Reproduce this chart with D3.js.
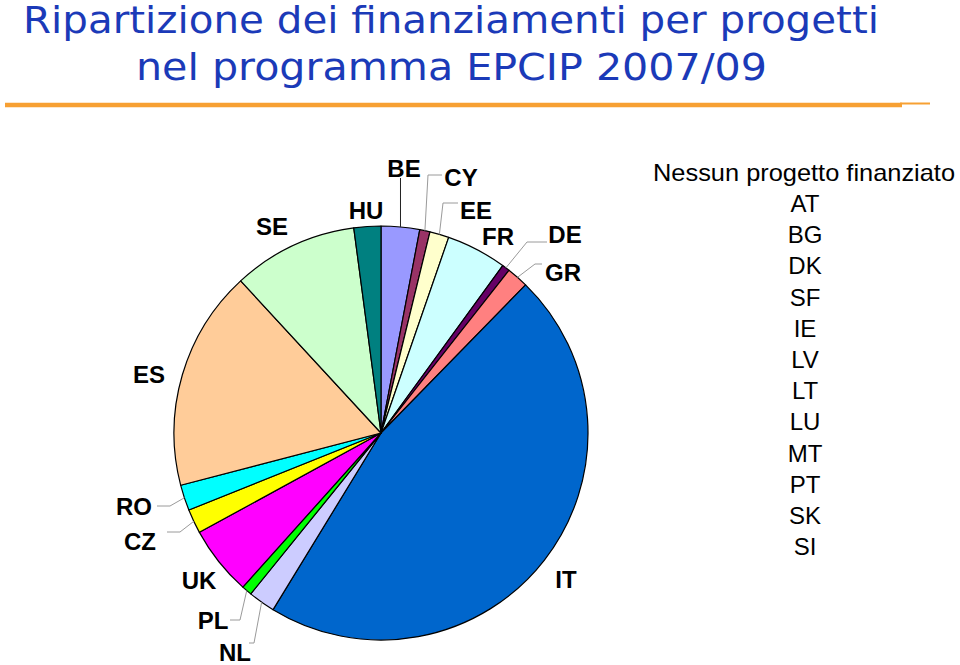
<!DOCTYPE html>
<html>
<head>
<meta charset="utf-8">
<script src="https://cdn.jsdelivr.net/npm/d3@7"></script>
<style>
  html, body { margin: 0; padding: 0; background: #fff; }
  svg { display: block; }
</style>
</head>
<body>
<svg id="chart" width="960" height="665"></svg>
<script>
// ---- Data (% share of funding) ----
const countries = ["BE", "CY", "EE", "FR", "DE", "GR", "IT", "NL", "PL", "UK", "CZ", "RO", "ES", "SE", "HU"];
const shares    = [3.0, 0.8, 1.5, 4.7, 0.6, 1.7, 46.4, 2.1, 0.8, 5.4, 1.9, 2.0, 17.2, 9.75, 2.1];
const sliceColors = ["#9999FF", "#993366", "#FFFFCC", "#CCFFFF", "#660066", "#FF8080", "#0066CC",
                     "#CCCCFF", "#00FF00", "#FF00FF", "#FFFF00", "#00FFFF", "#FFCC99", "#CCFFCC", "#008080"];
const titleLines = ["Ripartizione dei finanziamenti per progetti", "nel programma EPCIP 2007/09"];
const noFundingTitle = "Nessun progetto finanziato";
const noFunding = ["AT", "BG", "DK", "SF", "IE", "LV", "LT", "LU", "MT", "PT", "SK", "SI"];

// ---- Layout (label placement, not data) ----
const labelLayout = {
  BE: { x: 404, y: 177, leader: "vertical", end: [402, 178], color: "#222" },
  CY: { x: 461, y: 186, elbow: [428, 175], end: [442, 175] },
  EE: { x: 476, y: 219, elbow: [443, 203], end: [458, 203] },
  FR: { x: 498, y: 245 },
  DE: { x: 565, y: 243, elbow: [527, 242], end: [547, 242] },
  GR: { x: 563, y: 281, elbow: [535, 264], end: [542, 264] },
  IT: { x: 566, y: 588 },
  NL: { x: 235, y: 661, elbow: [254, 643], end: [249, 643] },
  PL: { x: 213, y: 629, elbow: [240, 620], end: [230, 620] },
  UK: { x: 199, y: 589 },
  CZ: { x: 140, y: 550, elbow: [180, 532], end: [167, 532] },
  RO: { x: 134, y: 515, elbow: [170, 506], end: [157, 506] },
  ES: { x: 149, y: 383 },
  SE: { x: 272, y: 235 },
  HU: { x: 366, y: 219 }
};

const svg = d3.select("#chart");
const cx = 381, cy = 433, radius = 207;

// Title
const title = svg.append("g").attr("fill", "#1B3AB8")
  .style("font-family", "'DejaVu Sans', Verdana, sans-serif").style("font-size", "38px");
title.append("text").attr("x", 23).attr("y", 33).text(titleLines[0])
  .attr("textLength", 856).attr("lengthAdjust", "spacingAndGlyphs");
title.append("text").attr("x", 136).attr("y", 80).text(titleLines[1])
  .attr("textLength", 631).attr("lengthAdjust", "spacingAndGlyphs");

// Orange rule
svg.append("line").attr("x1", 5).attr("x2", 902).attr("y1", 105).attr("y2", 105)
  .attr("stroke", "#F7A033").attr("stroke-width", 4.5);
svg.append("line").attr("x1", 900).attr("x2", 930).attr("y1", 103.5).attr("y2", 103.5)
  .attr("stroke", "#F7A033").attr("stroke-width", 2);

// Pie
const pie = d3.pie().sort(null).value(d => d.v).startAngle(0).endAngle(2 * Math.PI);
const data = countries.map((c, i) => ({ c, v: shares[i], col: sliceColors[i] }));
const arcs = pie(data);
const arc = d3.arc().innerRadius(0).outerRadius(radius);
const edgeArc = d3.arc().innerRadius(radius).outerRadius(radius);

const g = svg.append("g").attr("transform", `translate(${cx},${cy})`);
g.selectAll("path.slice").data(arcs).join("path")
  .attr("class", "slice")
  .attr("d", arc)
  .attr("fill", d => d.data.col)
  .attr("stroke", "#000")
  .attr("stroke-width", 1.2)
  .attr("stroke-linejoin", "round");

// Leader lines
const leaders = svg.append("g").attr("fill", "none");
arcs.forEach(a => {
  const L = labelLayout[a.data.c];
  if (!L || !L.end) return;
  const p = edgeArc.centroid(a);
  const start = [cx + p[0], cy + p[1]];
  let pts;
  if (L.leader === "vertical") pts = [start, [start[0], L.end[1]]];
  else pts = [start, L.elbow, L.end];
  leaders.append("path")
    .attr("d", d3.line()(pts))
    .attr("stroke", L.color || "#9a9a9a")
    .attr("stroke-width", 1);
});

// Slice labels
svg.append("g")
  .style("font-family", "'Liberation Sans', Arial, sans-serif")
  .style("font-weight", "bold").style("font-size", "24px")
  .attr("text-anchor", "middle").attr("fill", "#000")
  .selectAll("text").data(arcs).join("text")
  .attr("x", d => labelLayout[d.data.c].x)
  .attr("y", d => labelLayout[d.data.c].y)
  .text(d => d.data.c);

// Countries without funding
const nf = svg.append("g")
  .style("font-family", "'Liberation Sans', Arial, sans-serif")
  .style("font-size", "24px").attr("text-anchor", "middle").attr("fill", "#000");
nf.append("text").attr("x", 804).attr("y", 181).text(noFundingTitle)
  .attr("textLength", 302).attr("lengthAdjust", "spacingAndGlyphs");
nf.selectAll("text.c").data(noFunding).join("text").attr("class", "c")
  .attr("x", 805).attr("y", (d, i) => 212 + i * 31.2).text(d => d);
</script>
</body>
</html>
